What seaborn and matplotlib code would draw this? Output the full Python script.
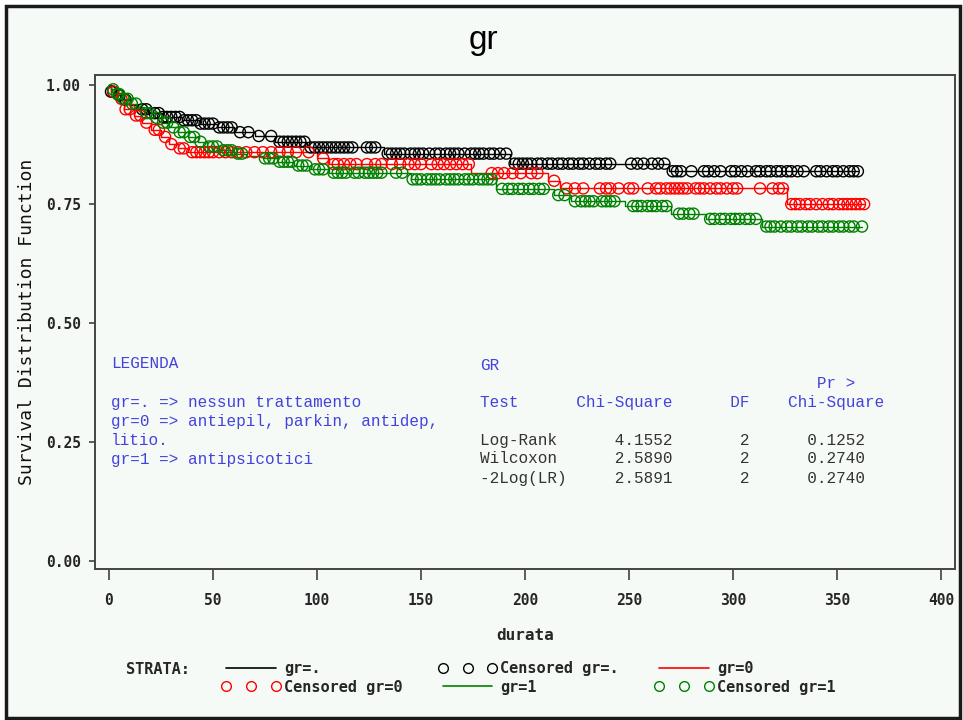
import numpy as np
import pandas as pd
import matplotlib
matplotlib.use("Agg")
import matplotlib.pyplot as plt
from matplotlib.patches import Rectangle
from matplotlib.lines import Line2D
import seaborn as sns

# ---- Kaplan-Meier estimates per stratum (event times, survival after event) ----
grdot_time = [0, 1, 4, 7, 10, 14, 19, 26, 35, 44, 52, 60, 70, 80, 95, 132, 193, 269]
grdot_surv = [1.0, 0.985, 0.977, 0.968, 0.958, 0.948, 0.940, 0.932, 0.925, 0.918,
              0.910, 0.900, 0.892, 0.880, 0.868, 0.855, 0.834, 0.818]
grdot_cens = [1, 2, 5, 8, 16, 18, 20, 22, 24, 26, 28, 30, 32, 34, 36, 38, 40, 42, 44, 46,
              48, 50, 53, 55, 57, 59, 63, 67, 72, 78, 82, 84, 86, 88, 90, 92, 94, 97, 99,
              101, 103, 105, 107, 109, 111, 113, 115, 117, 124, 126, 128, 134, 136, 138,
              140, 142, 145, 147, 149, 151, 154, 157, 159, 162, 164, 166, 168, 171, 174,
              176, 178, 180, 183, 185, 188, 191, 195, 197, 199, 201, 203, 206, 208, 211,
              213, 216, 218, 221, 223, 226, 228, 231, 234, 236, 239, 241, 251, 254, 257,
              261, 264, 267, 271, 273, 275, 280, 286, 288, 291, 294, 299, 301, 304, 307,
              311, 313, 316, 318, 321, 323, 326, 328, 331, 334, 340, 342, 345, 348, 350,
              353, 356, 358, 360]

gr0_time = [0, 1, 4, 7, 12, 16, 20, 25, 29, 33, 38, 100, 106, 174, 211, 217, 326]
gr0_surv = [1.0, 0.985, 0.970, 0.948, 0.935, 0.920, 0.905, 0.890, 0.875, 0.866, 0.858,
            0.845, 0.833, 0.814, 0.798, 0.782, 0.749]
gr0_cens = [2, 6, 8, 10, 13, 15, 18, 22, 24, 27, 30, 34, 36, 40, 42, 44, 46, 48, 50, 53,
            56, 59, 62, 66, 70, 74, 78, 82, 86, 90, 96, 103, 108, 110, 113, 116, 119, 124,
            128, 131, 136, 140, 144, 147, 150, 155, 158, 161, 164, 167, 170, 173, 184,
            187, 190, 194, 198, 203, 206, 214, 220, 224, 228, 236, 239, 241, 245, 250,
            252, 259, 263, 265, 268, 270, 272, 274, 276, 278, 282, 284, 286, 289, 292,
            294, 297, 300, 302, 313, 319, 322, 324, 328, 330, 332, 335, 337, 340, 343,
            346, 348, 351, 353, 355, 357, 359, 361, 363]

gr1_time = [0, 1, 3, 6, 10, 14, 17, 21, 25, 29, 33, 38, 43, 47, 53, 60, 66, 74, 81, 89,
            97, 106, 145, 186, 214, 222, 248, 270, 287, 314]
gr1_surv = [1.0, 0.990, 0.980, 0.970, 0.960, 0.952, 0.940, 0.930, 0.920, 0.910, 0.900,
            0.890, 0.880, 0.870, 0.862, 0.855, 0.850, 0.845, 0.838, 0.830, 0.822, 0.815,
            0.801, 0.781, 0.768, 0.755, 0.745, 0.729, 0.718, 0.702]
gr1_cens = [2, 4, 5, 7, 9, 11, 13, 18, 20, 23, 26, 28, 31, 34, 36, 39, 41, 44, 48, 50,
            52, 55, 57, 59, 62, 64, 75, 77, 79, 82, 84, 86, 88, 91, 93, 95, 99, 101, 103,
            108, 110, 112, 114, 118, 120, 123, 125, 127, 129, 131, 138, 141, 146, 148,
            150, 153, 155, 157, 159, 162, 164, 166, 168, 171, 173, 175, 178, 180, 182,
            184, 189, 192, 194, 197, 199, 202, 204, 207, 209, 216, 219, 224, 227, 229,
            231, 233, 237, 239, 241, 243, 252, 254, 256, 259, 261, 263, 266, 268, 274,
            276, 279, 281, 289, 291, 294, 296, 299, 301, 303, 306, 308, 311, 316, 318,
            320, 323, 326, 328, 331, 333, 336, 338, 341, 343, 346, 348, 351, 353, 356,
            358, 362]

strata = ["gr=.", "gr=0", "gr=1"]
strata_colors = ["#000000", "#ff0000", "#008000"]

# ---- homogeneity test table ----
test_names = ["Log-Rank", "Wilcoxon", "-2Log(LR)"]
chi_square = ["4.1552", "2.5890", "2.5891"]
test_df = ["2", "2", "2"]
p_values = ["0.1252", "0.2740", "0.2740"]

legend_lines = ["gr=. => nessun trattamento",
                "gr=0 => antiepil, parkin, antidep,",
                "litio.",
                "gr=1 => antipsicotici"]

x_ticks = [0, 50, 100, 150, 200, 250, 300, 350, 400]
y_ticks = [0.00, 0.25, 0.50, 0.75, 1.00]

# ---- figure setup ----
sns.set_theme(style="white")
plt.rcParams["font.family"] = ["DejaVu Sans Mono", "DejaVu Sans"]

W, H = 963, 720
fig = plt.figure(figsize=(W / 100, H / 100), dpi=100, facecolor="white")


def fx(x):
    return x / W


def fy(y):
    return 1 - y / H


bg = "#f6faf7"
fig.patches.append(Rectangle((fx(6), fy(718)), fx(960) - fx(6), fy(6) - fy(718),
                             transform=fig.transFigure, facecolor=bg,
                             edgecolor="#1a1a1a", lw=2.5, zorder=-5))

ax = fig.add_axes([fx(95), fy(569), fx(955) - fx(95), fy(75) - fy(569)])
ax.set_facecolor(bg)

series = [(grdot_time, grdot_surv, grdot_cens),
          (gr0_time, gr0_surv, gr0_cens),
          (gr1_time, gr1_surv, gr1_cens)]

for (t, s, c), color in zip(series, strata_colors):
    t = np.asarray(t, float)
    s = np.asarray(s, float)
    c = np.asarray(c, float)
    line = pd.DataFrame({"t": np.append(t, c.max()), "s": np.append(s, s[-1])})
    sns.lineplot(data=line, x="t", y="s", drawstyle="steps-post", estimator=None,
                 sort=False, color=color, lw=1.0, ax=ax)
    idx = np.searchsorted(t, c, side="right") - 1
    marks = pd.DataFrame({"t": c, "s": s[idx]})
    sns.scatterplot(data=marks, x="t", y="s", marker="o", s=64, facecolor="none",
                    edgecolor=color, linewidth=1.0, ax=ax, zorder=3)

ax.set_xlim(-6.7, 406.7)
ax.set_ylim(-0.0167, 1.02)
ax.set_xticks(x_ticks)
ax.set_xticklabels([str(v) for v in x_ticks])
ax.set_yticks(y_ticks)
ax.set_yticklabels([f"{v:.2f}" for v in y_ticks])

tick_font = dict(family="DejaVu Sans Mono", weight="bold", size=10.5)
for lab in ax.get_xticklabels() + ax.get_yticklabels():
    lab.set_fontproperties(matplotlib.font_manager.FontProperties(**tick_font))
ax.tick_params(axis="x", bottom=True, direction="out", length=8, width=1.2,
               color="#404040", pad=9)
ax.tick_params(axis="y", left=True, direction="out", length=4, width=1.2,
               color="#404040", pad=6)
for sp in ax.spines.values():
    sp.set_color("#454545")
    sp.set_linewidth(1.4)

ax.set_xlabel("durata", family="DejaVu Sans Mono", weight="bold", fontsize=11.5)
ax.xaxis.set_label_coords(0.5, -0.1356)
ax.xaxis.label.set_va("center")
ax.set_ylabel("Survival Distribution Function", family="DejaVu Sans Mono",
              fontsize=13, color="#111111")
ax.yaxis.set_label_coords(-0.079, 0.5)
ax.yaxis.label.set_va("center")

# ---- title ----
fig.text(fx(483), fy(40), "gr", family="Liberation Sans", fontsize=24,
         ha="center", va="center", color="black")

# ---- annotation block inside the plot ----
blue = "#4343dc"
gray = "#333333"
mono = dict(family="Liberation Mono", fontsize=11.5)
fig.text(fx(111), fy(364), "LEGENDA", color=blue, va="center", **mono)
for i, line in enumerate(legend_lines):
    fig.text(fx(111), fy(403 + 18.7 * i), line, color=blue, va="center", **mono)

fig.text(fx(480), fy(365), "GR", color=blue, va="center", **mono)
fig.text(fx(480), fy(383), f"{'Pr >':>39}", color=blue, va="center", **mono)
fig.text(fx(480), fy(403), f"{'Test':<10}{'Chi-Square':>10}{'DF':>8}{'Chi-Square':>14}",
         color=blue, va="center", **mono)
for i, (nm, chi, d, p) in enumerate(zip(test_names, chi_square, test_df, p_values)):
    fig.text(fx(480), fy(440 + 19 * i), f"{nm:<10}{chi:>10}{d:>8}{p:>12}",
             color=gray, va="center", **mono)

# ---- strata legend below the plot ----
fig.text(fx(126), fy(669), "STRATA:", family="DejaVu Sans Mono", weight="bold",
         fontsize=11, va="center")


def line_handle(color):
    return Line2D([], [], color=color, lw=1.2)


def cens_handle(color):
    return Line2D([], [], ls="none", marker="o", mfc="none", mec=color, ms=7, mew=1.0)


handles = [line_handle(strata_colors[0]), cens_handle(strata_colors[1]),
           cens_handle(strata_colors[0]), line_handle(strata_colors[2]),
           line_handle(strata_colors[1]), cens_handle(strata_colors[2])]
labels = ["gr=.", "Censored gr=0", "Censored gr=.", "gr=1", "gr=0", "Censored gr=1"]
fig.legend(handles, labels, ncol=3, loc="upper left",
           bbox_to_anchor=(fx(221.4), fy(661)), frameon=False, numpoints=3,
           prop=matplotlib.font_manager.FontProperties(family="DejaVu Sans Mono",
                                                      weight="bold", size=11),
           handlelength=3.87, handletextpad=0.22, columnspacing=2.32,
           labelspacing=0.25, borderpad=0, borderaxespad=0)

fig.savefig("out.png", dpi=100, facecolor="white")
